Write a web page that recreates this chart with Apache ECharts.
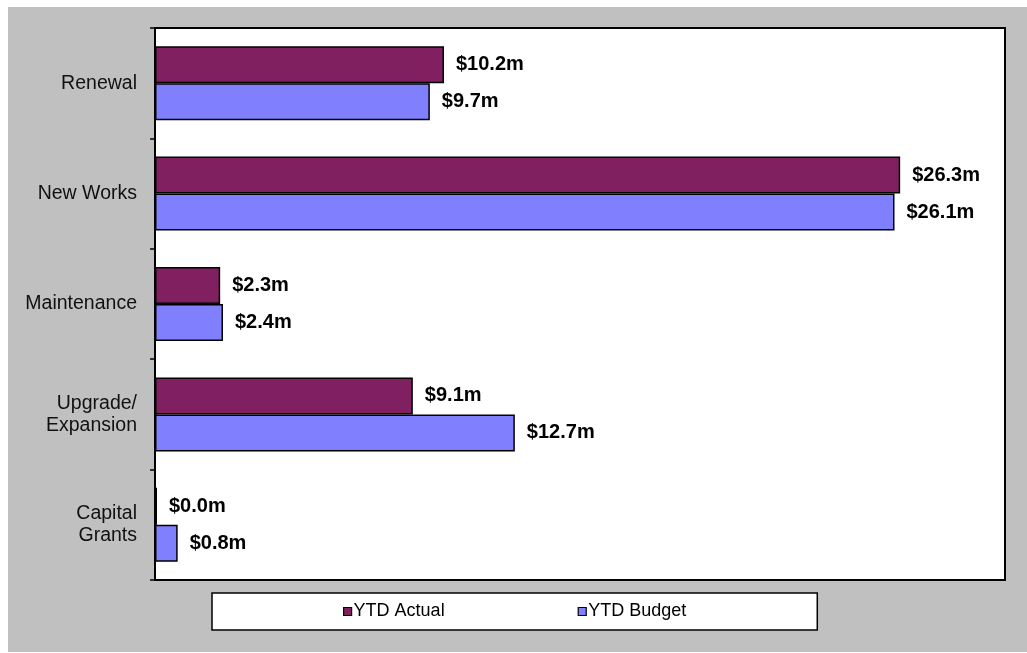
<!DOCTYPE html>
<html>
<head>
<meta charset="utf-8">
<script src="https://cdn.jsdelivr.net/npm/echarts@6/dist/echarts.min.js"></script>
<style>
  html, body { margin: 0; padding: 0; background: #ffffff; }
  #frame { position: absolute; left: 8px; top: 7px; width: 1019px; height: 645px; background: #c0c0c0; }
  #chart { position: absolute; left: 0; top: 0; width: 1027px; height: 653px; }
</style>
</head>
<body>
<div id="frame"></div>
<div id="chart"></div>
<script>
// Capital works spend by program, in $ millions
const categories = ['Renewal', 'New Works', 'Maintenance', 'Upgrade/\nExpansion', 'Capital\nGrants'];
const ytdActual = [10.2, 26.3, 2.3, 9.1, 0.0];
const ytdBudget = [9.7, 26.1, 2.4, 12.7, 0.8];
const seriesNames = ['YTD Actual', 'YTD Budget'];

const FONT = 'Arial, "Liberation Sans", sans-serif';

const chart = echarts.init(document.getElementById('chart'), null, { renderer: 'canvas' });

const valueLabel = {
  show: true,
  position: 'right',
  distance: 12,
  formatter: p => '$' + p.value.toFixed(1) + 'm',
  fontFamily: FONT,
  fontWeight: 'bold',
  fontSize: 20,
  color: '#000'
};

chart.setOption({
  animation: false,
  backgroundColor: 'transparent',
  grid: {
    left: 155, right: 22, top: 28, bottom: 73,
    show: true,
    backgroundColor: '#ffffff',
    borderColor: '#000000',
    borderWidth: 2
  },
  legend: {
    data: seriesNames,
    left: 212,
    top: 593,
    orient: 'horizontal',
    icon: 'rect',
    itemWidth: 8,
    itemHeight: 8,
    itemGap: 133,
    padding: [9, 131, 9, 131],
    backgroundColor: '#ffffff',
    borderColor: '#000000',
    borderWidth: 1.5,
    itemStyle: { borderColor: '#000', borderWidth: 1.2 },
    textStyle: { fontFamily: FONT, fontSize: 18, color: '#000', lineHeight: 19, padding: [0, 0, 0, -3] }
  },
  xAxis: {
    type: 'value',
    min: 0,
    max: 30,
    axisLine: { show: false },
    axisTick: { show: false },
    axisLabel: { show: false },
    splitLine: { show: false }
  },
  yAxis: {
    type: 'category',
    data: categories,
    inverse: true,
    z: 5,
    axisLine: { show: true, lineStyle: { color: '#000', width: 2 } },
    axisTick: { show: true, length: 5, lineStyle: { color: '#000', width: 1.5 } },
    axisLabel: {
      margin: 18,
      fontFamily: FONT,
      fontSize: 19.5,
      lineHeight: 22,
      color: '#111',
      align: 'right'
    }
  },
  series: [
    {
      name: seriesNames[0],
      type: 'bar',
      data: ytdActual,
      barWidth: 37,
      barGap: '0%',
      barMinHeight: 2,
      itemStyle: { color: '#802060', borderColor: '#000', borderWidth: 1.5 },
      label: valueLabel
    },
    {
      name: seriesNames[1],
      type: 'bar',
      data: ytdBudget,
      barWidth: 37,
      barGap: '0%',
      itemStyle: { color: '#8080ff', borderColor: '#000', borderWidth: 1.5 },
      label: valueLabel
    }
  ]
});
</script>
</body>
</html>
